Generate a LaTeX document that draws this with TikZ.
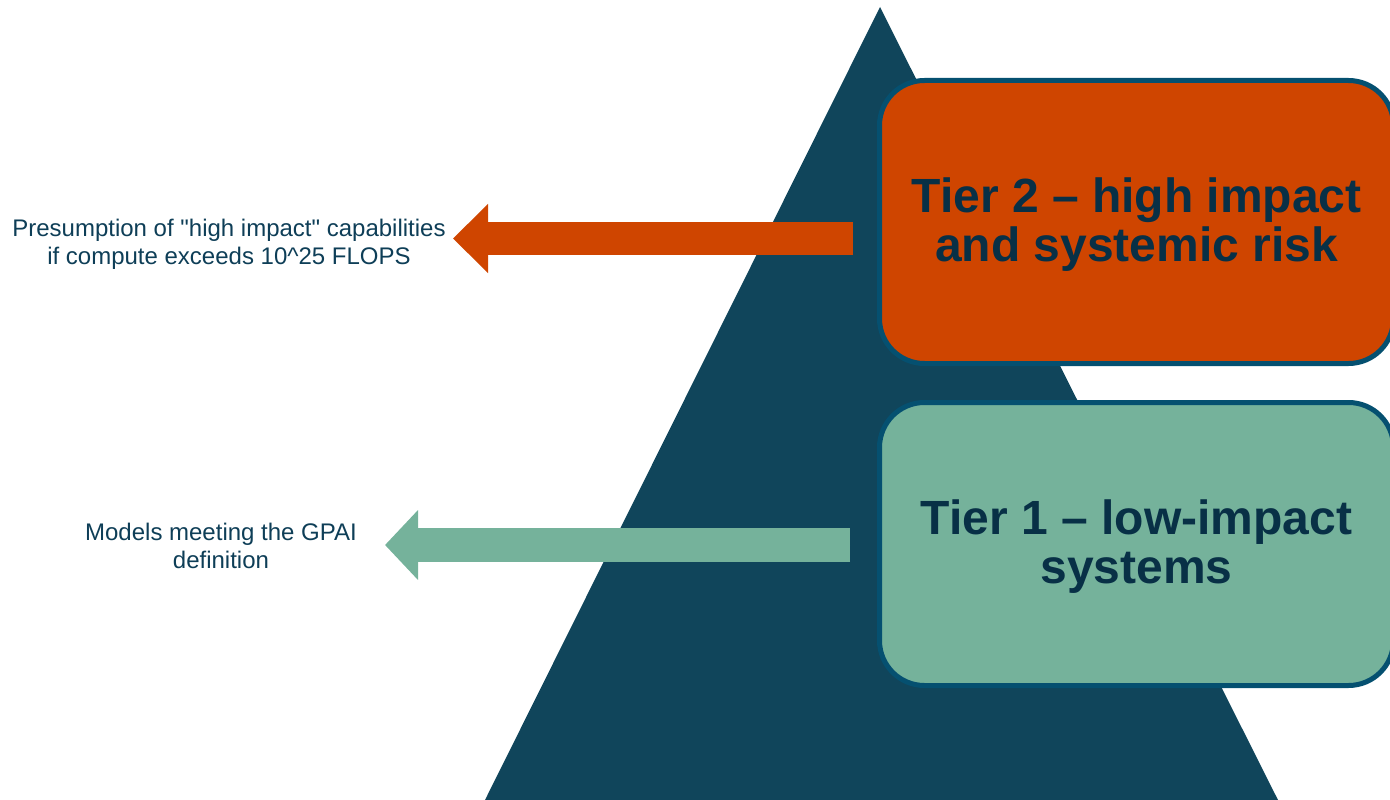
\documentclass[tikz,border=0pt]{standalone}
\usepackage{fontspec}
\setmainfont{Liberation Sans}
\usetikzlibrary{arrows.meta}

\definecolor{pyramid}{RGB}{16,69,91}
\definecolor{tierorange}{RGB}{207,69,0}
\definecolor{tiergreen}{RGB}{117,178,155}
\definecolor{tierborder}{RGB}{5,80,112}
\definecolor{tiertext}{RGB}{8,48,70}
\definecolor{notetext}{RGB}{14,62,87}

\tikzset{
  tierbox/.style={draw=tierborder, line width=5pt, rounded corners=45pt,
    minimum width=514pt, minimum height=283pt, align=center,
    text depth=4pt,
    text=tiertext, font=\fontsize{48}{49}\selectfont\bfseries},
  note/.style={align=center, text=notetext, font=\fontsize{24}{28}\selectfont},
  fatarrow/.style={line width=33pt,
    -{Triangle[length=35pt,width=67pt]}}
}

\begin{document}
\begin{tikzpicture}[x=1pt,y=-1pt]
  \useasboundingbox (0,0) rectangle (1390,800);
  \clip (0,0) rectangle (1390,800);

  % pyramid background
  \fill[pyramid] (880,7) -- (1278,800) -- (485,800) -- cycle;

  % tier boxes
  \node[tierbox, fill=tierorange] (tier2) at (1136.5,222)
    {Tier 2 -- high impact\\and systemic risk};
  \node[tierbox, fill=tiergreen] (tier1) at (1136.5,544)
    {Tier 1 -- low-impact\\systems};

  % side notes
  \node[note] (note2) at (229,244)
    {Presumption of \textquotedbl high impact\textquotedbl{} capabilities\\if compute exceeds 10\textasciicircum 25 FLOPS};
  \node[note] (note1) at (221,546)
    {Models meeting the GPAI\\definition};

  % arrows from the tiers to their notes
  \coordinate (a2s) at (853,238.5);
  \coordinate (a2t) at (453,238.5);
  \coordinate (a1s) at (850,545);
  \coordinate (a1t) at (385,545);
  \draw[fatarrow, draw=tierorange, fill=tierorange] (a2s) -- (a2t);
  \draw[fatarrow, draw=tiergreen, fill=tiergreen, line width=34pt,
        -{Triangle[length=33pt,width=68pt]}] (a1s) -- (a1t);
\end{tikzpicture}
\end{document}
